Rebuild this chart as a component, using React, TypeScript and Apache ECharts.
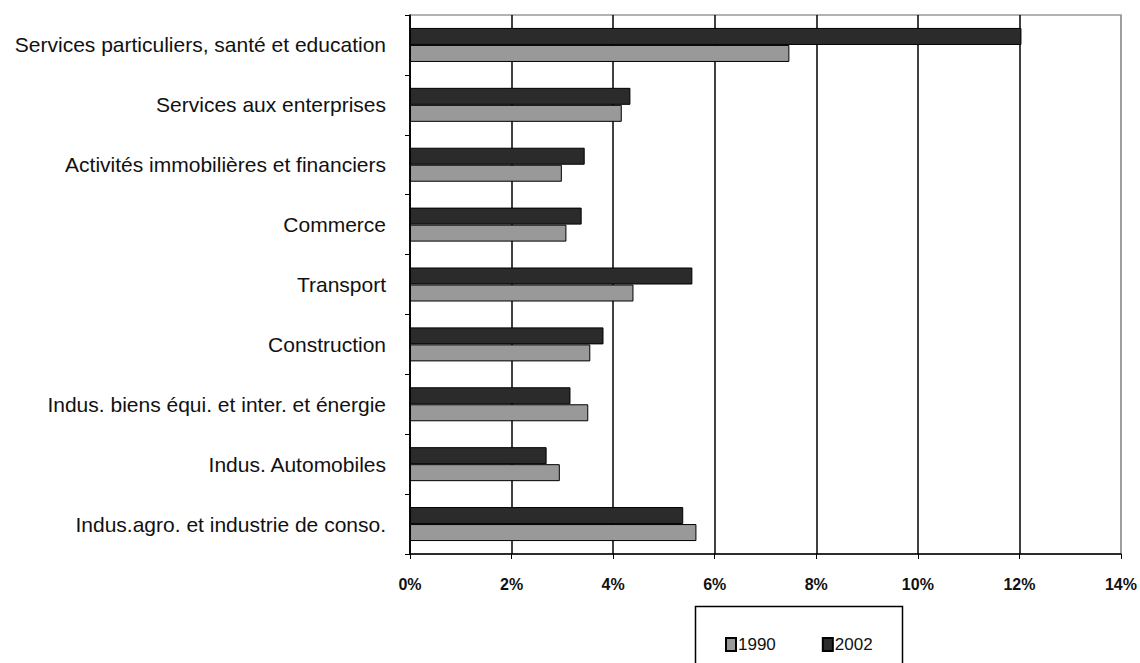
import React, { useEffect, useRef } from "react";
import * as echarts from "echarts";

const categories = [
  "Services particuliers, santé et education",
  "Services aux enterprises",
  "Activités immobilières et financiers",
  "Commerce",
  "Transport",
  "Construction",
  "Indus. biens équi. et inter. et énergie",
  "Indus. Automobiles",
  "Indus.agro. et industrie de conso.",
];
const values1990 = [7.47, 4.17, 2.99, 3.08, 4.4, 3.55, 3.51, 2.95, 5.64];
const values2002 = [12.04, 4.34, 3.44, 3.38, 5.56, 3.81, 3.16, 2.69, 5.38];
const xTicks = [0, 2, 4, 6, 8, 10, 12, 14];

export default function App() {
  const ref = useRef<HTMLDivElement>(null);
  useEffect(() => {
    if (!ref.current) return;
    const chart = echarts.init(ref.current, null, { renderer: "svg" });
    const sans = "'Liberation Sans', Arial, sans-serif";
    chart.setOption({
      animation: false,
      backgroundColor: "#ffffff",
      grid: {
        left: 410,
        right: 18,
        top: 15,
        bottom: 109,
        show: true,
        borderColor: "#999999",
        borderWidth: 1.5,
      },
      legend: {
        left: 720,
        top: 631,
        itemWidth: 10,
        itemHeight: 13,
        itemGap: 46,
        icon: "rect",
        textStyle: { fontFamily: sans, fontSize: 17, color: "#111", padding: [0, 0, 0, -3] },
        data: ["1990", "2002"],
      },
      graphic: [
        {
          type: "rect",
          shape: { x: 695.5, y: 606.5, width: 207, height: 80 },
          style: { fill: "none", stroke: "#000", lineWidth: 1.5 },
        },
      ],
      xAxis: {
        type: "value",
        min: xTicks[0],
        max: xTicks[xTicks.length - 1],
        interval: 2,
        axisLine: { show: true, lineStyle: { color: "#000", width: 1.5 } },
        axisTick: { show: true, length: 5, lineStyle: { color: "#000" } },
        axisLabel: {
          margin: 22,
          formatter: "{value}%",
          fontFamily: sans,
          fontSize: 16,
          fontWeight: "bold",
          color: "#111",
        },
        splitLine: {
          show: true,
          lineStyle: {
            color: ["#000", "#000", "#000", "#000", "#000", "#000", "#000", "#999"],
            width: 1.5,
          },
        },
      },
      yAxis: {
        type: "category",
        inverse: true,
        data: categories,
        axisLine: { show: true, lineStyle: { color: "#000", width: 1.5 } },
        axisTick: { show: true, length: 5, lineStyle: { color: "#000" } },
        axisLabel: {
          margin: 24,
          fontFamily: sans,
          fontSize: 21,
          color: "#111",
          padding: [0, 0, 6, 0],
        },
        splitLine: { show: false },
      },
      series: [
        {
          name: "2002",
          type: "bar",
          data: values2002,
          barWidth: 17,
          barGap: "0%",
          itemStyle: { color: "#2b2b2b", borderColor: "#000", borderWidth: 1 },
        },
        {
          name: "1990",
          type: "bar",
          data: values1990,
          barWidth: 17,
          barGap: "0%",
          itemStyle: { color: "#999999", borderColor: "#000", borderWidth: 1 },
        },
      ],
    });
    return () => chart.dispose();
  }, []);
  return (
    <div
      ref={ref}
      style={{ position: "fixed", left: 0, top: 0, width: 1140, height: 663 }}
    />
  );
}
